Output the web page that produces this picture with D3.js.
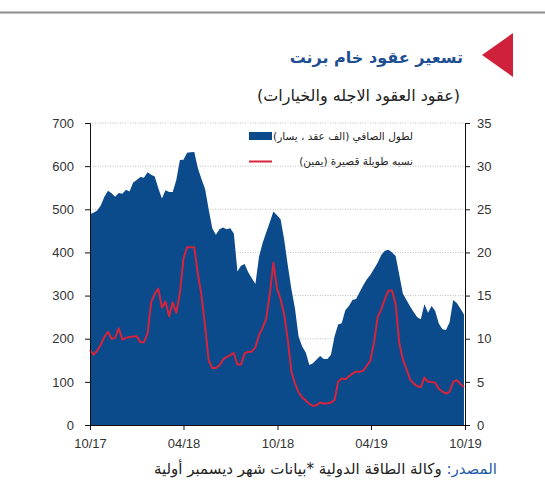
<!DOCTYPE html>
<html>
<head>
<meta charset="utf-8">
<script src="https://cdn.jsdelivr.net/npm/d3@7"></script>
<style>
body { margin: 0; background: #fff; }
svg { display: block; }
</style>
</head>
<body>
<svg id="chart" width="545" height="489"></svg>
<script>
// weekly data, first week starts here
var startDate = "2017-10-01";

// net long, thousand contracts (left axis)
var netLong = [489, 492, 497, 509, 529, 543, 537, 529, 538, 536,
	545, 541, 562, 568, 575, 573, 586, 580, 576, 549,
	525, 544, 540, 540, 568, 614, 615, 631, 632, 633,
	595, 570, 547, 500, 456, 441, 454, 458, 454, 456,
	444, 356, 369, 373, 354, 340, 327, 390, 422, 446,
	470, 495, 486, 477, 430, 370, 315, 270, 205, 182,
	168, 139, 143, 152, 160, 153, 153, 162, 205, 233,
	236, 266, 276, 290, 292, 308, 324, 338, 348, 362,
	376, 394, 404, 406, 400, 392, 348, 305, 290, 275,
	262, 250, 245, 280, 260, 276, 264, 235, 222, 220,
	238, 290, 283, 270, 256];

// long/short ratio (right axis)
var longShort = [8.7, 8.15, 8.6, 9.3, 10.2, 10.8, 10.0, 10.1, 11.2, 9.9,
	10.1, 10.2, 10.25, 10.3, 9.6, 9.6, 10.6, 14.2, 15.2, 15.8,
	13.6, 14.3, 12.6, 14.2, 13.0, 15.3, 19.3, 20.6, 20.6, 20.6,
	17.5, 15.0, 11.5, 7.5, 6.6, 6.6, 6.9, 7.6, 7.9, 8.1,
	8.35, 7.0, 7.0, 8.3, 8.5, 8.5, 9.0, 10.4, 11.25, 12.3,
	15.2, 18.8, 15.8, 14.6, 12.8, 9.9, 6.2, 4.8, 3.8, 3.2,
	2.85, 2.45, 2.2, 2.3, 2.6, 2.5, 2.5, 2.6, 2.9, 5.0,
	5.4, 5.3, 5.65, 5.95, 6.2, 6.15, 6.3, 6.9, 7.5, 9.6,
	12.5, 13.4, 14.6, 15.6, 15.6, 14.0, 9.5, 7.6, 6.5, 5.3,
	4.8, 4.5, 4.4, 5.5, 5.0, 5.0, 4.9, 4.2, 3.86, 3.65,
	3.85, 5.0, 5.2, 4.75, 4.4];

var leftTicks = [0, 100, 200, 300, 400, 500, 600, 700];
var rightTicks = [0, 5, 10, 15, 20, 25, 30, 35];
var xTickDates = ["2017-10-01", "2018-04-01", "2018-10-01", "2019-04-01", "2019-10-01"];
var xTickLabels = ["10/17", "04/18", "10/18", "04/19", "10/19"];

var titleText = "تسعير عقود خام برنت";
var subtitleText = "(عقود العقود الاجله والخيارات)";
var legendLabels = ["لطول الصافي (الف عقد ، يسار)", "نسبه طويلة قصيرة (يمين)"];
var sourceLabel = "المصدر:";
var sourceText = " وكالة الطاقة الدولية *بيانات شهر ديسمبر أولية";

var blue = "#0b4a8b";
var red = "#d7233b";
var arabicFont = "'DejaVu Sans', sans-serif";
var numFont = "'Liberation Sans', Arial, sans-serif";

var svg = d3.select("#chart");
var parse = d3.utcParse("%Y-%m-%d");
var t0 = parse(startDate);
var dates = netLong.map(function(d, i) { return d3.utcWeek.offset(t0, i); });

// plot box (don't use "top" - clashes with window.top)
var pLeft = 90, pRight = 465, pTop = 123, pBottom = 425;

var x = d3.scaleUtc().domain([parse("2017-10-01"), parse("2019-10-01")]).range([pLeft, pRight]);
var yL = d3.scaleLinear().domain([0, 700]).range([pBottom, pTop]);
var yR = d3.scaleLinear().domain([0, 35]).range([pBottom, pTop]);

svg.append("rect").attr("width", 545).attr("height", 489).attr("fill", "#fff");

// frame line on top
svg.append("line").attr("x1", 0).attr("x2", 545).attr("y1", 12.5).attr("y2", 12.5)
	.attr("stroke", "#8c8c8c").attr("stroke-width", 2);

// title with red marker
svg.append("path")
	.attr("d", "M482,55 L513,33 L513,77 Z")
	.attr("fill", "#d0213a");
svg.append("text")
	.attr("x", 463).attr("y", 63)
	.attr("direction", "rtl")
	.attr("text-anchor", "start")
	.style("font-family", arabicFont).style("font-weight", "bold").style("font-size", "16px")
	.attr("fill", "#1d4f91")
	.text(titleText);
svg.append("text")
	.attr("x", 460).attr("y", 101)
	.attr("direction", "rtl")
	.attr("text-anchor", "start")
	.style("font-family", arabicFont).style("font-size", "16px")
	.attr("fill", "#222")
	.text(subtitleText);

// dotted gridlines
svg.append("g").selectAll("line").data(leftTicks.slice(1)).enter().append("line")
	.attr("x1", pLeft).attr("x2", pRight)
	.attr("y1", function(d) { return yL(d); })
	.attr("y2", function(d) { return yL(d); })
	.attr("stroke", "#bdbdbd").attr("stroke-width", 1).attr("stroke-dasharray", "1,1.5");

// net long area
var area = d3.area()
	.x(function(d, i) { return x(dates[i]); })
	.y0(yL(0))
	.y1(function(d) { return yL(d); });
svg.append("path").datum(netLong)
	.attr("d", area)
	.attr("fill", blue);

// ratio line
var line = d3.line()
	.x(function(d, i) { return x(dates[i]); })
	.y(function(d) { return yR(d); });
svg.append("path").datum(longShort)
	.attr("d", line)
	.attr("fill", "none")
	.attr("stroke", red)
	.attr("stroke-width", 2)
	.attr("stroke-linejoin", "round");

// left axis
var gL = svg.append("g").attr("transform", "translate(" + pLeft + ",0)");
gL.call(d3.axisLeft(yL).tickValues(d3.range(0, 701, 20)).tickSize(4).tickFormat(""));
gL.call(d3.axisLeft(yL).tickValues(leftTicks).tickSize(5).tickPadding(11)
	.tickFormat(d3.format("d")));
gL.selectAll("path,line").attr("stroke", "#111");
gL.selectAll("text").style("font-family", numFont).style("font-size", "13px").attr("fill", "#333");

// right axis
var gR = svg.append("g").attr("transform", "translate(" + pRight + ",0)");
gR.call(d3.axisRight(yR).tickValues(d3.range(0, 36, 1)).tickSize(4).tickFormat(""));
gR.call(d3.axisRight(yR).tickValues(rightTicks).tickSize(5).tickPadding(7)
	.tickFormat(d3.format("d")));
gR.selectAll("path,line").attr("stroke", "#111");
gR.selectAll("text").style("font-family", numFont).style("font-size", "13px").attr("fill", "#333");

// bottom axis
var gB = svg.append("g").attr("transform", "translate(0," + pBottom + ")");
gB.call(d3.axisBottom(x).ticks(d3.utcMonth.every(1)).tickSize(4).tickFormat(""));
gB.call(d3.axisBottom(x).tickValues(xTickDates.map(parse)).tickSize(5).tickPadding(9)
	.tickFormat(function(d, i) { return xTickLabels[i]; }));
gB.selectAll("path,line").attr("stroke", "#111");
gB.selectAll("text").style("font-family", numFont).style("font-size", "13px").attr("fill", "#333");

// legend
var legend = svg.append("g");
legend.append("rect").attr("x", 249).attr("y", 132).attr("width", 23).attr("height", 8).attr("fill", blue);
legend.append("line").attr("x1", 249).attr("x2", 272).attr("y1", 161.5).attr("y2", 161.5)
	.attr("stroke", red).attr("stroke-width", 2);
legend.selectAll("text").data(legendLabels).enter().append("text")
	.attr("x", 413)
	.attr("y", function(d, i) { return 140 + i * 25; })
	.attr("direction", "rtl")
	.attr("text-anchor", "start")
	.style("font-family", arabicFont).style("font-size", "10.5px")
	.attr("fill", "#222")
	.text(function(d) { return d; });

// source
var src = svg.append("text")
	.attr("x", 497).attr("y", 474)
	.attr("direction", "rtl")
	.attr("text-anchor", "start")
	.style("font-family", arabicFont).style("font-size", "15px")
	.attr("fill", "#222");
src.append("tspan").attr("fill", "#1d5aa6").text(sourceLabel);
src.append("tspan").text(sourceText);
</script>
</body>
</html>
